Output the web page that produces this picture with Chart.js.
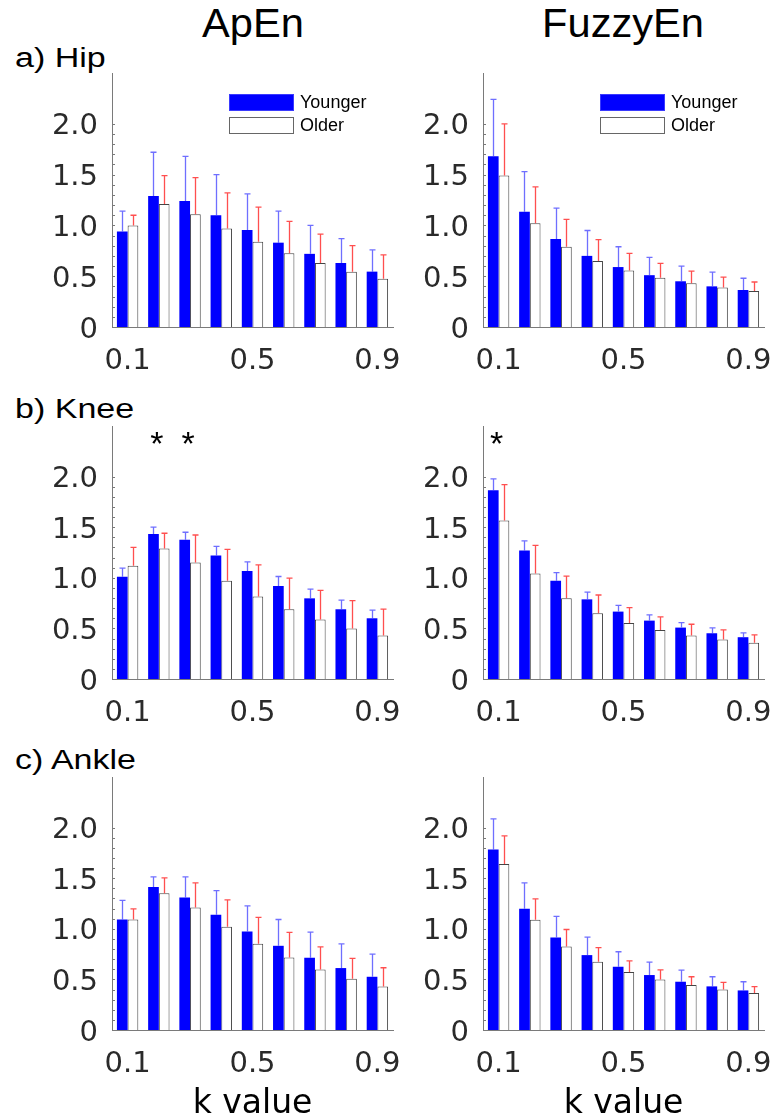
<!DOCTYPE html>
<html>
<head>
<meta charset="utf-8">
<title>ApEn / FuzzyEn by k value</title>
<script src="https://cdn.jsdelivr.net/npm/chart.js@4.4.1/dist/chart.umd.min.js"></script>
<style>
	body { margin: 0; background: #fff; }
	#fig { position: relative; width: 775px; height: 1120px; overflow: hidden; background: #fff; }
	#fig canvas { position: absolute; }
	.colTitle { position: absolute; top: 3px; font: 40px "Liberation Sans", Arial, sans-serif; line-height: 40px; color: #000; white-space: nowrap; transform: translateX(-50%) scaleX(1.04); }
	.rowLabel { position: absolute; left: 15px; font: 27px "Liberation Sans", Arial, sans-serif; line-height: 27px; color: #000; white-space: nowrap; transform-origin: left center; transform: scaleX(1.26); }
</style>
</head>
<body>
<div id="fig">
	<div class="colTitle" style="left:253px">ApEn</div>
	<div class="colTitle" style="left:623px">FuzzyEn</div>
	<div class="rowLabel" style="top:45px">a) Hip</div>
	<div class="rowLabel" style="top:396px">b) Knee</div>
	<div class="rowLabel" style="top:747px">c) Ankle</div>

	<canvas id="hipAp" width="420" height="356" style="left:0;top:41px"></canvas>
	<canvas id="hipFz" width="420" height="356" style="left:371px;top:41px"></canvas>
	<canvas id="kneeAp" width="420" height="356" style="left:0;top:394px"></canvas>
	<canvas id="kneeFz" width="420" height="356" style="left:371px;top:394px"></canvas>
	<canvas id="ankleAp" width="420" height="375" style="left:0;top:745px"></canvas>
	<canvas id="ankleFz" width="420" height="375" style="left:371px;top:745px"></canvas>
</div>

<script>
// k values on the x axis, only some of them get a label
var kValues = ['0.1', '0.2', '0.3', '0.4', '0.5', '0.6', '0.7', '0.8', '0.9'];
var kTickLabels = ['0.1', '0.5', '0.9'];
var yTickLabels = ['0', '0.5', '1.0', '1.5', '2.0'];
var groupNames = ['Younger', 'Older'];

// means and SD (upper whisker only)
var hipApYoung = [0.94, 1.29, 1.24, 1.10, 0.955, 0.83, 0.72, 0.63, 0.545];
var hipApYoungSd = [0.20, 0.43, 0.44, 0.40, 0.355, 0.31, 0.28, 0.24, 0.215];
var hipApOld = [1.00, 1.21, 1.11, 0.97, 0.84, 0.725, 0.63, 0.545, 0.475];
var hipApOldSd = [0.10, 0.28, 0.36, 0.35, 0.34, 0.315, 0.285, 0.255, 0.235];

var hipFzYoung = [1.68, 1.135, 0.866, 0.70, 0.59, 0.51, 0.45, 0.40, 0.364];
var hipFzYoungSd = [0.56, 0.395, 0.304, 0.25, 0.20, 0.175, 0.15, 0.14, 0.116];
var hipFzOld = [1.49, 1.02, 0.79, 0.65, 0.555, 0.485, 0.43, 0.39, 0.354];
var hipFzOldSd = [0.51, 0.36, 0.27, 0.21, 0.17, 0.142, 0.12, 0.10, 0.089];

var kneeApYoung = [1.01, 1.433, 1.377, 1.22, 1.066, 0.92, 0.797, 0.689, 0.60];
var kneeApYoungSd = [0.085, 0.067, 0.073, 0.09, 0.091, 0.093, 0.092, 0.091, 0.08];
var kneeApOld = [1.118, 1.29, 1.15, 0.97, 0.816, 0.69, 0.587, 0.498, 0.43];
var kneeApOldSd = [0.182, 0.15, 0.273, 0.31, 0.312, 0.307, 0.288, 0.276, 0.26];

var kneeFzYoung = [1.866, 1.269, 0.97, 0.787, 0.666, 0.577, 0.508, 0.452, 0.413];
var kneeFzYoungSd = [0.111, 0.095, 0.082, 0.072, 0.062, 0.056, 0.049, 0.053, 0.043];
var kneeFzOld = [1.567, 1.043, 0.797, 0.649, 0.554, 0.485, 0.43, 0.39, 0.357];
var kneeFzOldSd = [0.353, 0.278, 0.219, 0.181, 0.151, 0.128, 0.111, 0.095, 0.079];

var ankleApYoung = [1.092, 1.414, 1.309, 1.138, 0.974, 0.832, 0.714, 0.612, 0.526];
var ankleApYoungSd = [0.188, 0.099, 0.204, 0.24, 0.253, 0.26, 0.253, 0.24, 0.224];
var ankleApOld = [1.092, 1.352, 1.21, 1.02, 0.852, 0.717, 0.599, 0.507, 0.431];
var ankleApOldSd = [0.105, 0.151, 0.244, 0.266, 0.26, 0.247, 0.223, 0.20, 0.184];

var ankleFzYoung = [1.783, 1.197, 0.914, 0.74, 0.625, 0.543, 0.477, 0.431, 0.391];
var ankleFzYoungSd = [0.303, 0.257, 0.208, 0.178, 0.148, 0.128, 0.115, 0.095, 0.086];
var ankleFzOld = [1.641, 1.089, 0.826, 0.674, 0.572, 0.50, 0.444, 0.401, 0.365];
var ankleFzOldSd = [0.277, 0.207, 0.167, 0.139, 0.112, 0.095, 0.082, 0.069, 0.063];

// k indices with a significant group difference
var kneeApSig = [1, 2];
var kneeFzSig = [0];

var TICK_FONT = { family: "'DejaVu Sans', sans-serif", size: 29 };
var TEXT_COLOR = '#2a2a2a';
var AXIS_COLOR = '#7a7a7a';
var PAD_TOP = 32;

// vertical whisker + cap above every bar
var errorBarPlugin = {
	id: 'errorBars',
	afterDatasetsDraw: function(chart) {
		var ctx = chart.ctx;
		var yScale = chart.scales.y;
		chart.data.datasets.forEach(function(ds, i) {
			var meta = chart.getDatasetMeta(i);
			ctx.save();
			ctx.strokeStyle = ds.errorColor;
			ctx.lineWidth = 1.3;
			meta.data.forEach(function(bar, j) {
				var top = yScale.getPixelForValue(ds.data[j] + ds.errors[j]);
				var x = Math.round(bar.x) + 0.5;
				ctx.beginPath();
				ctx.moveTo(x, bar.y);
				ctx.lineTo(x, top);
				ctx.moveTo(x - 3, top);
				ctx.lineTo(x + 3, top);
				ctx.stroke();
			});
			ctx.restore();
		});
	}
};

// small inward ticks every 0.1 up to 2.0
var minorTickPlugin = {
	id: 'minorTicks',
	afterDraw: function(chart) {
		var ctx = chart.ctx;
		var y = chart.scales.y;
		var left = chart.chartArea.left;
		ctx.save();
		ctx.strokeStyle = AXIS_COLOR;
		ctx.lineWidth = 1;
		ctx.beginPath();
		for (var v = 1; v <= 20; v++) {
			var py = Math.round(y.getPixelForValue(v / 10)) + 0.5;
			ctx.moveTo(left, py);
			ctx.lineTo(left + 3, py);
		}
		ctx.stroke();
		ctx.restore();
	}
};

// boxed legend in the upper right of the top panels
var boxLegendPlugin = {
	id: 'boxLegend',
	afterDraw: function(chart, args, opts) {
		if (!opts.show) return;
		var ctx = chart.ctx;
		var a = chart.chartArea;
		var x = a.left + 117;
		ctx.save();
		ctx.font = '18px "Liberation Sans", Arial, sans-serif';
		ctx.textBaseline = 'middle';
		chart.data.datasets.forEach(function(ds, i) {
			var y = a.top + 21 + i * 23;
			ctx.fillStyle = ds.backgroundColor;
			ctx.fillRect(x, y, 65, 17);
			ctx.lineWidth = 1;
			ctx.strokeStyle = i === 0 ? '#3a3aff' : '#666';
			ctx.strokeRect(x + 0.5, y + 0.5, 64, 16);
			ctx.fillStyle = '#000';
			ctx.fillText(ds.label, x + 71, y + 9);
		});
		ctx.restore();
	}
};

// asterisks over significant k values
var sigPlugin = {
	id: 'sigMarks',
	afterDraw: function(chart, args, opts) {
		if (!opts.indices || !opts.indices.length) return;
		var ctx = chart.ctx;
		var xScale = chart.scales.x;
		ctx.save();
		ctx.font = '34px "Liberation Sans", Arial, sans-serif';
		ctx.fillStyle = '#000';
		ctx.textAlign = 'center';
		ctx.textBaseline = 'alphabetic';
		opts.indices.forEach(function(idx) {
			ctx.fillText('*', xScale.getPixelForValue(idx) - 2, chart.chartArea.top + 29);
		});
		ctx.restore();
	}
};

function makePanel(id, young, youngSd, old, oldSd, cfg) {
	var canvas = document.getElementById(id);
	var xHeight = canvas.height - PAD_TOP - cfg.areaHeight;
	return new Chart(canvas, {
		type: 'bar',
		data: {
			labels: kValues,
			datasets: [{
				label: groupNames[0],
				data: young,
				errors: youngSd,
				errorColor: 'rgba(50,50,255,0.7)',
				backgroundColor: '#0000ff',
				borderWidth: 0
			}, {
				label: groupNames[1],
				data: old,
				errors: oldSd,
				errorColor: 'rgba(255,35,35,0.8)',
				backgroundColor: '#ffffff',
				borderColor: '#444',
				borderWidth: 1
			}]
		},
		options: {
			responsive: false,
			animation: false,
			devicePixelRatio: 1,
			layout: { padding: { left: 0, right: 27, top: PAD_TOP, bottom: 0 } },
			datasets: { bar: { categoryPercentage: 0.685, barPercentage: 1 } },
			scales: {
				x: {
					grid: { display: false, drawTicks: false },
					border: { display: true, color: AXIS_COLOR, width: 1 },
					ticks: {
						autoSkip: false,
						maxRotation: 0,
						padding: 17,
						color: TEXT_COLOR,
						font: TICK_FONT,
						callback: function(val) {
							var label = this.getLabelForValue(val);
							return kTickLabels.indexOf(label) >= 0 ? label : '';
						}
					},
					title: {
						display: !!cfg.xTitle,
						text: cfg.xTitle || '',
						color: '#000',
						font: { family: "'DejaVu Sans', sans-serif", size: 33 },
						padding: { top: 0, bottom: -4 }
					},
					afterFit: function(scale) { scale.height = xHeight; }
				},
				y: {
					min: 0,
					max: 2.5,
					grid: { display: false, drawTicks: false },
					border: { display: true, color: AXIS_COLOR, width: 1 },
					ticks: {
						stepSize: 0.5,
						autoSkip: false,
						padding: 14,
						labelOffset: 3,
						color: TEXT_COLOR,
						font: TICK_FONT,
						callback: function(val, i) { return yTickLabels[i] || ''; }
					},
					afterFit: function(scale) { scale.width = 112; }
				}
			},
			plugins: {
				legend: { display: false },
				tooltip: { enabled: false },
				boxLegend: { show: !!cfg.legend },
				sigMarks: { indices: cfg.sig || [] }
			}
		},
		plugins: [errorBarPlugin, minorTickPlugin, boxLegendPlugin, sigPlugin]
	});
}

makePanel('hipAp', hipApYoung, hipApYoungSd, hipApOld, hipApOldSd, { areaHeight: 254, legend: true });
makePanel('hipFz', hipFzYoung, hipFzYoungSd, hipFzOld, hipFzOldSd, { areaHeight: 254, legend: true });
makePanel('kneeAp', kneeApYoung, kneeApYoungSd, kneeApOld, kneeApOldSd, { areaHeight: 253, sig: kneeApSig });
makePanel('kneeFz', kneeFzYoung, kneeFzYoungSd, kneeFzOld, kneeFzOldSd, { areaHeight: 253, sig: kneeFzSig });
makePanel('ankleAp', ankleApYoung, ankleApYoungSd, ankleApOld, ankleApOldSd, { areaHeight: 253, xTitle: 'k value' });
makePanel('ankleFz', ankleFzYoung, ankleFzYoungSd, ankleFzOld, ankleFzOldSd, { areaHeight: 253, xTitle: 'k value' });
</script>
</body>
</html>
